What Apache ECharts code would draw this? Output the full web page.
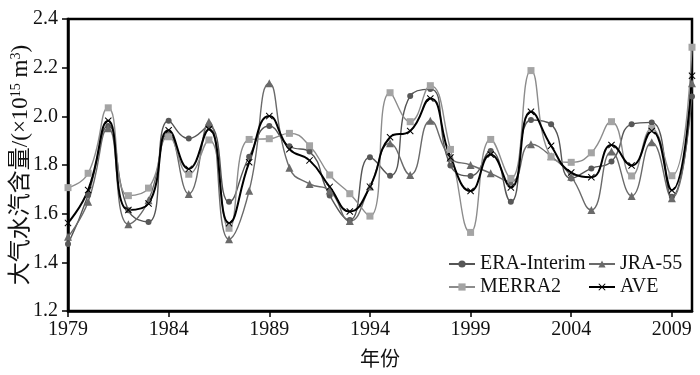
<!DOCTYPE html>
<html><head><meta charset="utf-8">
<script src="https://cdn.jsdelivr.net/npm/echarts@6/dist/echarts.min.js"></script>
<style>html,body{margin:0;padding:0;background:#fff}#c{width:700px;height:375px}</style>
</head><body><div id="c"></div>
<script>
const years = ['1979','1980','1981','1982','1983','1984','1985','1986','1987','1988','1989','1990','1991','1992','1993','1994','1995','1996','1997','1998','1999','2000','2001','2002','2003','2004','2005','2006','2007','2008','2009','2010'];
const eraInterim = [1.475,1.677,1.960,1.614,1.566,1.982,1.909,1.960,1.649,1.834,1.960,1.877,1.855,1.675,1.574,1.832,1.756,2.084,2.112,1.798,1.755,1.858,1.649,1.985,1.967,1.745,1.786,1.814,1.967,1.975,1.670,2.082];
const jra55 = [1.505,1.649,1.951,1.557,1.655,1.930,1.681,1.978,1.495,1.694,2.136,1.789,1.722,1.695,1.570,1.712,1.889,1.759,1.982,1.830,1.800,1.766,1.731,1.885,1.836,1.752,1.615,1.855,1.673,1.894,1.663,2.136];
const merra2 = [1.707,1.766,2.035,1.674,1.705,1.916,1.762,1.903,1.540,1.905,1.908,1.930,1.879,1.759,1.682,1.590,2.097,1.978,2.126,1.864,1.523,1.905,1.745,2.188,1.834,1.811,1.850,1.978,1.755,1.950,1.756,2.284];
const ave = [1.562,1.697,1.982,1.615,1.642,1.943,1.784,1.947,1.561,1.811,2.001,1.865,1.819,1.710,1.609,1.711,1.914,1.940,2.073,1.831,1.693,1.843,1.708,2.019,1.879,1.769,1.750,1.882,1.798,1.940,1.696,2.167];
const yTicks = {min: 1.2, max: 2.4, interval: 0.2};

const serif = '"Liberation Serif","Times New Roman","Noto Sans CJK SC",serif';
const xSym = 'path://M0,1L1,0L5,4L9,0L10,1L6,5L10,9L9,10L5,6L1,10L0,9L4,5Z';
const chart = echarts.init(document.getElementById('c'), null, {renderer: 'canvas'});
function mkSeries(name, data, color, lineColor, symbol, size, width) {
  return {
    name, type: 'line', data, smooth: 0.5, symbol, symbolSize: size, showSymbol: true,
    lineStyle: {color: lineColor, width: width},
    itemStyle: {color: color},
    emphasis: {disabled: true}, animation: false
  };
}
const legendBase = {itemWidth: 26, itemHeight: 9, itemGap: 5,
  textStyle: {fontFamily: serif, fontSize: 20, color: '#111'}, padding: 0};
chart.setOption({
  animation: false,
  grid: {left: 68, right: 8, top: 19, bottom: 64, show: true, borderColor: '#000', borderWidth: 2.5,
    containLabel: false, outerBoundsMode: 'none'},
  legend: [
    Object.assign({data: ['ERA-Interim'], left: 448, top: 254}, legendBase),
    Object.assign({data: ['JRA-55'], left: 588, top: 254}, legendBase),
    Object.assign({data: ['MERRA2'], left: 448, top: 277}, legendBase),
    Object.assign({data: ['AVE'], left: 588, top: 277}, legendBase)
  ],
  xAxis: {
    type: 'category', data: years, boundaryGap: false,
    name: '年份', nameLocation: 'middle', nameGap: 40, nameMoveOverlap: false,
    nameTextStyle: {fontFamily: serif, fontSize: 20, color: '#111'},
    axisLine: {lineStyle: {color: '#000', width: 2.5}},
    axisTick: {show: true, interval: 4, length: 6, lineStyle: {color: '#000', width: 1.5}},
    axisLabel: {interval: 4, fontFamily: serif, fontSize: 20, color: '#111', margin: 9},
    splitLine: {show: false}
  },
  yAxis: {
    type: 'value', min: yTicks.min, max: yTicks.max, interval: yTicks.interval,
    name: '大气水汽含量/(×10{sup|15} m{sup|3})', nameLocation: 'middle', nameRotate: 90, nameGap: 36,
    nameMoveOverlap: false,
    nameTextStyle: {fontFamily: serif, fontSize: 23, color: '#111',
      rich: {sup: {fontFamily: serif, fontSize: 14, color: '#111', verticalAlign: 'top', padding: [0,0,9,0]}}},
    axisLine: {show: true, lineStyle: {color: '#000', width: 2.5}},
    axisTick: {show: true, length: 6, lineStyle: {color: '#000', width: 1.5}},
    axisLabel: {fontFamily: serif, fontSize: 20, color: '#111', margin: 10, formatter: v => v.toFixed(1)},
    splitLine: {show: false}
  },
  series: [
    mkSeries('ERA-Interim', eraInterim, '#585858', '#555555', 'circle', 6, 1.4),
    mkSeries('JRA-55', jra55, '#6a6a6a', '#6a6a6a', 'triangle', 8, 1.4),
    mkSeries('MERRA2', merra2, '#a4a4a4', '#8c8c8c', 'rect', 7, 1.4),
    mkSeries('AVE', ave, '#000', '#000', xSym, 7, 2)
  ]
});
</script></body></html>
